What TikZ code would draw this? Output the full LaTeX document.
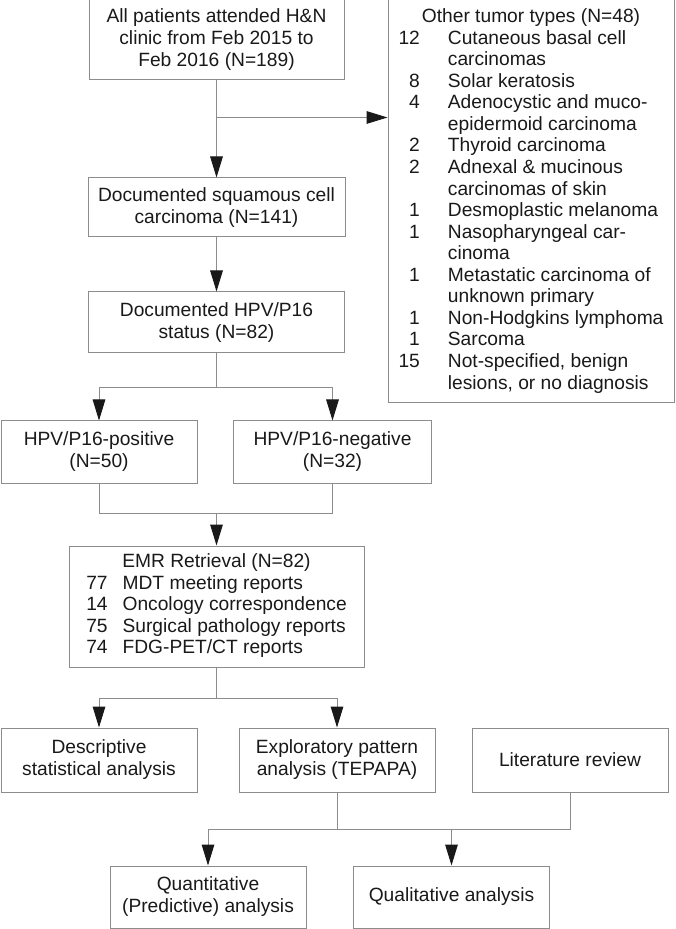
\documentclass[tikz,border=0pt]{standalone}
\usepackage{fontspec}
\setmainfont{Liberation Sans}
\usepackage{tikz}
\usetikzlibrary{arrows.meta, calc}
\tikzstyle{process} = [rectangle, minimum width=98pt, minimum height=31pt, text centered, align=center, draw=black!45, line width=0.5pt, inner sep=0pt, font=\fontsize{9.6}{11}\selectfont, text=black!90]
\tikzstyle{listbox} = [rectangle, draw=black!45, line width=0.5pt, inner sep=0pt, font=\fontsize{9.6}{11}\selectfont, text=black!90]
\tikzstyle{line} = [draw=black!45, line width=0.5pt]
\tikzstyle{arrow} = [line, -{Triangle[length=10.5pt,width=6.3pt,color=black!90]}]
\begin{document}
\begin{tikzpicture}[node distance=60pt]
  \useasboundingbox (0,0) rectangle (337.5pt,-464.5pt);

  \node (allpat) [process, minimum width=127.5pt, minimum height=40pt] at (108.25pt,-20pt) {All patients attended H\&N\\clinic from Feb 2015 to\\Feb 2016 (N=189)};
  \node (scc) [process, minimum width=128.5pt, minimum height=29.5pt, below of=allpat, yshift=-23.75pt] {Documented squamous cell\\carcinoma (N=141)};
  \node (hpv) [process, minimum width=128pt, minimum height=30.5pt, below of=scc, yshift=2.5pt] {Documented HPV/P16\\status (N=82)};
  \node (pos) [process, below of=hpv, xshift=-58.75pt, yshift=-4.75pt] {HPV/P16-positive\\(N=50)};
  \node (neg) [process, minimum width=99pt, right of=pos, xshift=56.75pt] {HPV/P16-negative\\(N=32)};
  \node (emr) [listbox, minimum width=147.5pt, minimum height=60.5pt, below of=hpv, yshift=-82pt] {%
    \renewcommand{\arraystretch}{0.98}%
    \begin{tabular}{@{}r@{\hspace{7.5pt}}l@{}}
      \multicolumn{2}{c}{EMR Retrieval (N=82)}\\
      77 & MDT meeting reports\\
      14 & Oncology correspondence\\
      75 & Surgical pathology reports\\
      74 & FDG-PET/CT reports
    \end{tabular}};
  \node (desc) [process, minimum height=32pt, below of=emr, xshift=-58.75pt, yshift=-16.75pt] {Descriptive\\statistical analysis};
  \node (expl) [process, minimum height=32pt, below of=emr, xshift=60.25pt, yshift=-16.75pt] {Exploratory pattern\\analysis (TEPAPA)};
  \node (lit) [process, minimum height=32pt, right of=expl, xshift=56.5pt] {Literature review};
  \node (quant) [process, below of=expl, xshift=-64.5pt, yshift=-8.5pt] {Quantitative\\(Predictive) analysis};
  \node (qual) [process, right of=quant, xshift=61.75pt] {Qualitative analysis};
  \node (other) [listbox, minimum width=143pt, minimum height=201.5pt, right of=allpat, xshift=97.25pt, yshift=-80.75pt] {%
    \renewcommand{\arraystretch}{0.98}%
    \begin{tabular}{@{}r@{\hspace{14pt}}l@{}}
      \multicolumn{2}{c}{Other tumor types (N=48)}\\
      12 & Cutaneous basal cell\\
         & carcinomas\\
      8  & Solar keratosis\\
      4  & Adenocystic and muco-\\
         & epidermoid carcinoma\\
      2  & Thyroid carcinoma\\
      2  & Adnexal \& mucinous\\
         & carcinomas of skin\\
      1  & Desmoplastic melanoma\\
      1  & Nasopharyngeal car-\\
         & cinoma\\
      1  & Metastatic carcinoma of\\
         & unknown primary\\
      1  & Non-Hodgkins lymphoma\\
      1  & Sarcoma\\
      15 & Not-specified, benign\\
         & lesions, or no diagnosis
    \end{tabular}};

  \coordinate (split) at ($(allpat.south)+(0,-18.5pt)$);
  \coordinate (merge) at ($(emr.north)+(0,16pt)$);
  \coordinate (merge2) at ($(expl.south)+(0,-18.5pt)$);

  \draw [arrow] (allpat) -- (scc);
  \draw [arrow] (split) -- (split -| other.west);
  \draw [arrow] (scc) -- (hpv);
  \draw [arrow] (hpv.south) -- ++(0,-17pt) -| (pos.north);
  \draw [arrow] (hpv.south) -- ++(0,-17pt) -| (neg.north);
  \draw [line] (pos.south) |- (merge);
  \draw [line] (neg.south) |- (merge);
  \draw [arrow] (merge) -- (emr.north);
  \draw [arrow] (emr.south) -- ++(0,-15.5pt) -| (desc.north);
  \draw [arrow] (emr.south) -- ++(0,-15.5pt) -| (expl.north);
  \draw [line] (lit.south) |- (merge2);
  \draw [arrow] (expl.south) -- (merge2) -| (quant.north);
  \draw [arrow] (merge2 -| qual.north) -- (qual.north);

\end{tikzpicture}
\end{document}
